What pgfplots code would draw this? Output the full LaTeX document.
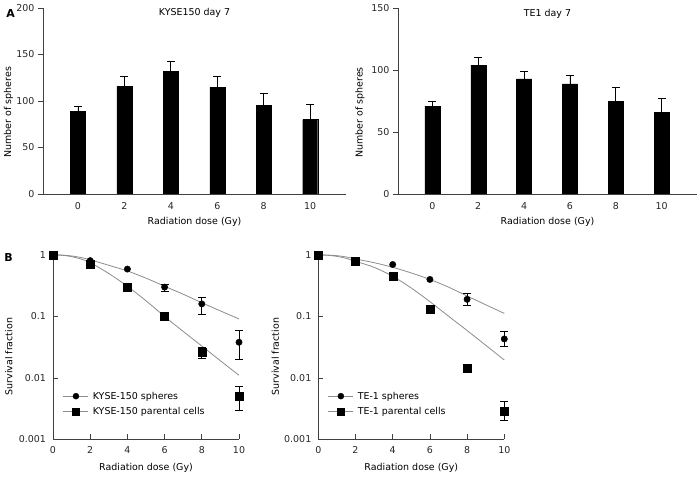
\documentclass[border=0pt]{standalone}
\usepackage{pgfplots}
\pgfplotsset{compat=1.18}
\usepackage{fontspec}
\setmainfont{DejaVu Sans}
\pgfplotsset{
  every axis/.append style={
    scale only axis,
    font=\fontsize{9.5}{11.5}\selectfont,
    /pgf/number format/assume math mode=true,
    axis line style={black!75, line width=0.7bp},
    tick style={black!75, line width=0.7bp},
    tick label style={black!85},
    major tick length=5bp,
  },
  barax/.style={
    anchor=south west,
    axis x line*=bottom, axis y line*=left,
    tick align=outside,
    ybar, ymin=0,
    xmin=-0.75, xmax=5.77,
    xtick={0,...,5}, xticklabels={0,2,4,6,8,10},
    x tick style={draw=none},
    every axis title/.style={at={(axis description cs:0.5,1)}, anchor=north, inner sep=0pt, yshift=-0.5bp},
    every axis x label/.style={at={(axis description cs:0.5,0)}, anchor=center, yshift=-27.7bp},
    xlabel={Radiation dose (Gy)},
    ylabel={Number of spheres},
  },
  barplot/.style={fill=black, draw=black, bar width=15bp,
    error bars/.cd, y dir=plus, y explicit,
    error bar style={black, line width=0.7bp},
    error mark options={rotate=90, mark size=4bp, black, line width=0.7bp}},
  survax/.style={
    anchor=south west, width=186bp, height=184.3bp,
    xmin=0, xmax=10, ymin=0.001, ymax=1,
    xtick={0,2,...,10},
    ytick={0.001,0.01,0.1,1}, yticklabels={0.001,0.01,0.1,1},
    yminorticks=false,
    axis x line*=bottom, axis y line*=left,
    tick align=inside, clip=false,
    yticklabel style={xshift=-3.5bp},
    xticklabel style={yshift=-4bp},
    every axis x label/.style={at={(axis description cs:0.5,0)}, anchor=center, yshift=-28.4bp},
    xlabel={Radiation dose (Gy)},
    ylabel={Survival fraction},
    legend cell align=left,
    legend style={draw=none, fill=none, inner sep=0pt, outer sep=0pt,
      nodes={inner sep=2bp}, row sep=3bp, column sep=2bp,
      font=\fontsize{9.5}{11.5}\selectfont},
  },
  fitline/.style={black!45, line width=0.8bp, smooth, forget plot},
  errplot/.style={only marks, mark=none, forget plot,
    error bars/.cd, y dir=both, y explicit,
    error bar style={draw=black, line width=0.7bp},
    error mark options={rotate=90, mark size=4bp, draw=black, line width=0.7bp}},
  circplot/.style={only marks, mark=*, mark size=3.2bp, black,
    legend image code/.code={
      \draw[black!45, line width=0.8bp] (0bp,0bp) -- (25bp,0bp);
      \fill[black] (12.5bp,0bp) circle (3bp);}},
  sqplot/.style={only marks, mark=square*, mark size=4bp, black,
    legend image code/.code={
      \draw[black!45, line width=0.8bp] (0bp,0bp) -- (25bp,0bp);
      \fill[black] (9bp,-3.5bp) rectangle (16bp,3.5bp);}},
}
\begin{document}
\begin{tikzpicture}
\path[use as bounding box] (0bp,0bp) rectangle (700bp,477bp);

% ---------- A left ----------
\begin{axis}[barax, at={(43bp,283bp)}, width=303bp, height=186bp,
  ymax=200, ytick={0,50,100,150,200},
  title={KYSE150 day 7},
  every axis y label/.style={at={(axis description cs:-0.114,0.44)}, rotate=90, anchor=center}]
\addplot[barplot] coordinates {
  (0,89) +- (0,5)
  (1,116) +- (0,10)
  (2,132) +- (0,11)
  (3,115) +- (0,11)
  (4,95) +- (0,13)
  (5,80) +- (0,16)
};
\end{axis}

% ---------- A right ----------
\begin{axis}[barax, at={(398bp,283bp)}, width=299bp, height=185.7bp,
  ymax=150, ytick={0,50,100,150},
  title={TE1 day 7},
  every axis y label/.style={at={(axis description cs:-0.127,0.44)}, rotate=90, anchor=center}]
\addplot[barplot] coordinates {
  (0,71) +- (0,4)
  (1,104) +- (0,6)
  (2,93) +- (0,6)
  (3,89) +- (0,7)
  (4,75) +- (0,11)
  (5,66) +- (0,11)
};
\end{axis}

% ---------- B left ----------
\begin{semilogyaxis}[survax, at={(53bp,37.7bp)},
  every axis y label/.style={at={(axis description cs:-0.238,0.448)}, rotate=90, anchor=center},
  legend style={at={(axis description cs:0.054,0.1915)}, anchor=west}]
\addplot[fitline] coordinates {(0,1) (0.5,0.995) (1,0.965) (1.5,0.91) (2,0.835) (3,0.68) (4,0.55) (5,0.42) (6,0.31) (7,0.23) (8,0.167) (9,0.123) (10,0.091)};
\addplot[fitline] coordinates {(0,1) (0.5,0.99) (1,0.94) (1.5,0.86) (2,0.75) (3,0.50) (4,0.31) (5,0.18) (6,0.10) (7,0.057) (8,0.033) (9,0.019) (10,0.011)};
\addplot[errplot] coordinates {
  (6,0.30) += (0,0.03) -= (0,0.04)
  (8,0.16) += (0,0.045) -= (0,0.05)
  (10,0.038) += (0,0.022) -= (0,0.018)
};
\addplot[errplot] coordinates {
  (8,0.026) += (0,0.005) -= (0,0.005)
  (10,0.005) += (0,0.0024) -= (0,0.002)
};
\addplot[circplot] coordinates {(0,1) (2,0.81) (4,0.59) (6,0.30) (8,0.16) (10,0.038)};
\addlegendentry{KYSE-150 spheres}
\addplot[sqplot] coordinates {(0,1) (2,0.70) (4,0.30) (6,0.10) (8,0.026) (10,0.005)};
\addlegendentry{KYSE-150 parental cells}
\end{semilogyaxis}

% ---------- B right ----------
\begin{semilogyaxis}[survax, at={(318.3bp,37.7bp)},
  every axis y label/.style={at={(axis description cs:-0.231,0.448)}, rotate=90, anchor=center},
  legend style={at={(axis description cs:0.052,0.1915)}, anchor=west}]
\addplot[fitline] coordinates {(0,1) (0.5,0.997) (1,0.975) (1.5,0.93) (2,0.86) (3,0.75) (4,0.63) (5,0.51) (6,0.40) (7,0.30) (8,0.215) (9,0.155) (10,0.112)};
\addplot[fitline] coordinates {(0,1) (0.5,0.99) (1,0.95) (1.5,0.88) (2,0.79) (3,0.63) (4,0.45) (5,0.29) (6,0.174) (7,0.101) (8,0.059) (9,0.034) (10,0.0195)};
\addplot[errplot] coordinates {
  (8,0.19) += (0,0.05) -= (0,0.04)
  (10,0.043) += (0,0.014) -= (0,0.011)
};
\addplot[errplot] coordinates {
  (10,0.0029) += (0,0.0012) -= (0,0.0009)
};
\addplot[circplot] coordinates {(0,1) (2,0.81) (4,0.70) (6,0.40) (8,0.19) (10,0.043)};
\addlegendentry{TE-1 spheres}
\addplot[sqplot] coordinates {(0,1) (2,0.80) (4,0.45) (6,0.13) (8,0.0144) (10,0.0029)};
\addlegendentry{TE-1 parental cells}
\end{semilogyaxis}

\node[font=\bfseries\fontsize{11}{13}\selectfont] at (10.5bp,463bp) {A};
\node[font=\bfseries\fontsize{11}{13}\selectfont] at (8.5bp,219bp) {B};
\end{tikzpicture}
\end{document}
